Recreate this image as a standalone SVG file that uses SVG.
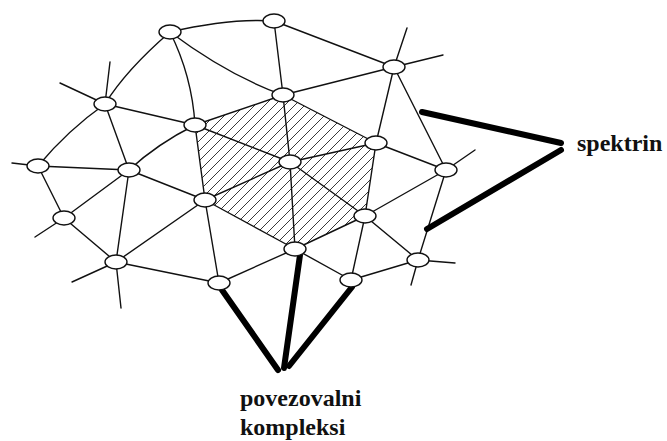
<svg xmlns="http://www.w3.org/2000/svg" width="667" height="441" viewBox="0 0 667 441">
  <style>
    .edge { fill: none; stroke: #111; stroke-width: 1.4; stroke-linecap: round; }
    .node ellipse { fill: #fff; stroke: #111; stroke-width: 1.4; }
    .thick { fill: none; stroke: #000; stroke-width: 6; stroke-linecap: round; }
    .label { font-weight: bold; font-size: 24px; fill: #111; }
  </style>
  <defs>
    <pattern id="hatch" patternUnits="userSpaceOnUse" width="10" height="10">
      <path d="M-2,2 L2,-2 M0,10 L10,0 M8,12 L12,8" stroke="#222" stroke-width="0.9"/>
    </pattern>
  </defs>
  <rect width="667" height="441" fill="#fff"/>

  <!-- hatched central patch -->
  <polygon id="patch" points="195,125 283,95 376,143 365,216 295,249 205,200" fill="url(#hatch)"/>

  <g id="connectors">
    <path class="edge" d="M170,32 Q230,18 274,21"/>
    <path class="edge" d="M170,32 Q126,70 105,104"/>
    <path class="edge" d="M170,32 Q192,76 195,125"/>
    <path class="edge" d="M170,32 Q229,76 283,95"/>
    <path class="edge" d="M274,21 L283,95"/>
    <path class="edge" d="M274,21 L394,67"/>
    <path class="edge" d="M394,67 L283,95"/>
    <path class="edge" d="M394,67 L376,143"/>
    <path class="edge" d="M394,67 L446,170"/>
    <path class="edge" d="M105,104 L195,125"/>
    <path class="edge" d="M105,104 Q68,130 38,166"/>
    <path class="edge" d="M105,104 L129,170"/>
    <path class="edge" d="M195,125 L283,95"/>
    <path class="edge" d="M195,125 L290,162"/>
    <path class="edge" d="M195,125 Q157,144 129,170"/>
    <path class="edge" d="M195,125 L205,200"/>
    <path class="edge" d="M283,95 L376,143"/>
    <path class="edge" d="M283,95 L290,162"/>
    <path class="edge" d="M376,143 L290,162"/>
    <path class="edge" d="M376,143 L365,216"/>
    <path class="edge" d="M376,143 L446,170"/>
    <path class="edge" d="M290,162 L205,200"/>
    <path class="edge" d="M290,162 L365,216"/>
    <path class="edge" d="M290,162 L295,249"/>
    <path class="edge" d="M38,166 L129,170"/>
    <path class="edge" d="M38,166 L64,218"/>
    <path class="edge" d="M129,170 L205,200"/>
    <path class="edge" d="M129,170 L64,218"/>
    <path class="edge" d="M129,170 L116,262"/>
    <path class="edge" d="M205,200 L116,262"/>
    <path class="edge" d="M205,200 L219,283"/>
    <path class="edge" d="M205,200 L295,249"/>
    <path class="edge" d="M64,218 L116,262"/>
    <path class="edge" d="M365,216 L446,170"/>
    <path class="edge" d="M365,216 L295,249"/>
    <path class="edge" d="M365,216 L351,280"/>
    <path class="edge" d="M365,216 L418,260"/>
    <path class="edge" d="M446,170 L418,260"/>
    <path class="edge" d="M116,262 L219,283"/>
    <path class="edge" d="M219,283 L295,249"/>
    <path class="edge" d="M295,249 L351,280"/>
    <path class="edge" d="M351,280 L418,260"/>
    <!-- free filament ends -->
    <path class="edge" d="M394,67 L407,28"/>
    <path class="edge" d="M394,67 L443,55"/>
    <path class="edge" d="M105,104 L110,62"/>
    <path class="edge" d="M105,104 L60,83"/>
    <path class="edge" d="M38,166 L12,163"/>
    <path class="edge" d="M64,218 L35,237"/>
    <path class="edge" d="M446,170 L475,150"/>
    <path class="edge" d="M116,262 L72,282"/>
    <path class="edge" d="M116,262 L121,308"/>
    <path class="edge" d="M418,260 L411,285"/>
    <path class="edge" d="M418,260 L455,263"/>
    <!-- pointer lines -->
    <path class="thick" d="M422,112 L561,143"/>
    <path class="thick" d="M561,150 L427,229"/>
    <path class="thick" d="M222,290 L278,370"/>
    <path class="thick" d="M300,255 L284,368"/>
    <path class="thick" d="M352,287 L289,366"/>
  </g>

  <g id="n1" class="node"><ellipse cx="170" cy="32" rx="11" ry="7"/></g>
  <g id="n2" class="node"><ellipse cx="274" cy="21" rx="11" ry="7"/></g>
  <g id="n3" class="node"><ellipse cx="394" cy="67" rx="11" ry="7"/></g>
  <g id="n4" class="node"><ellipse cx="105" cy="104" rx="11" ry="7"/></g>
  <g id="n5" class="node"><ellipse cx="195" cy="125" rx="11" ry="7"/></g>
  <g id="n6" class="node"><ellipse cx="283" cy="95" rx="11" ry="7"/></g>
  <g id="n7" class="node"><ellipse cx="376" cy="143" rx="11" ry="7"/></g>
  <g id="n8" class="node"><ellipse cx="290" cy="162" rx="11" ry="7"/></g>
  <g id="n9" class="node"><ellipse cx="38" cy="166" rx="11" ry="7"/></g>
  <g id="n10" class="node"><ellipse cx="129" cy="170" rx="11" ry="7"/></g>
  <g id="n11" class="node"><ellipse cx="205" cy="200" rx="11" ry="7"/></g>
  <g id="n12" class="node"><ellipse cx="64" cy="218" rx="11" ry="7"/></g>
  <g id="n13" class="node"><ellipse cx="365" cy="216" rx="11" ry="7"/></g>
  <g id="n14" class="node"><ellipse cx="446" cy="170" rx="11" ry="7"/></g>
  <g id="n15" class="node"><ellipse cx="116" cy="262" rx="11" ry="7"/></g>
  <g id="n16" class="node"><ellipse cx="219" cy="283" rx="11" ry="7"/></g>
  <g id="n17" class="node"><ellipse cx="295" cy="249" rx="11" ry="7"/></g>
  <g id="n18" class="node"><ellipse cx="351" cy="280" rx="11" ry="7"/></g>
  <g id="n19" class="node"><ellipse cx="418" cy="260" rx="11" ry="7"/></g>

  <g id="labels" font-family="Liberation Serif, Times New Roman, DejaVu Serif, serif">
    <text class="label" x="577" y="151">spektrin</text>
    <text class="label" x="240" y="406">povezovalni</text>
    <text class="label" x="240" y="435">kompleksi</text>
  </g>
</svg>
